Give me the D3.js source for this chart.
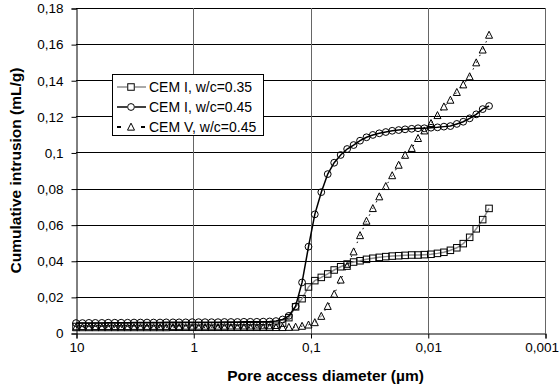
<!DOCTYPE html>
<html>
<head>
<meta charset="utf-8">
<script src="https://cdn.jsdelivr.net/npm/d3@7"></script>
<style>
  body { margin: 0; background: #fff; }
  text { font-family: Arial, "Liberation Sans", sans-serif; }
</style>
</head>
<body>
<div id="chart"></div>
<script>
// pore access diameter (µm), shared by all three samples
const diam = [10, 8.81, 7.76, 6.84, 6.02, 5.31, 4.67, 4.12, 3.63, 3.20,
  2.82, 2.48, 2.18, 1.92, 1.70, 1.49, 1.32, 1.16, 1.02, 0.900,
  0.793, 0.698, 0.615, 0.542, 0.477, 0.420, 0.370, 0.326, 0.287, 0.253,
  0.223, 0.197, 0.173, 0.153, 0.134, 0.118, 0.104, 0.0919, 0.0809, 0.0713,
  0.0628, 0.0553, 0.0487, 0.0429, 0.0378, 0.0333, 0.0294, 0.0259, 0.0228, 0.0201,
  0.0177, 0.0156, 0.0137, 0.0121, 0.0107, 0.00938, 0.00826, 0.00728, 0.00641, 0.00565,
  0.00498, 0.00439, 0.00386, 0.00340, 0.00300];

const cemI035 = [0.0036, 0.0037, 0.0036, 0.0037, 0.0037, 0.0037, 0.0037, 0.0037, 0.0037, 0.0038,
  0.0038, 0.0038, 0.0038, 0.0038, 0.0038, 0.0038, 0.0038, 0.0039, 0.0039, 0.0039,
  0.0039, 0.0039, 0.0039, 0.0039, 0.0040, 0.0040, 0.0040, 0.0040, 0.0040, 0.0041,
  0.0041, 0.0043, 0.0055, 0.0085, 0.0145, 0.0190, 0.0255, 0.0290, 0.0308, 0.0327,
  0.0349, 0.0367, 0.0382, 0.0393, 0.0400, 0.0408, 0.0414, 0.0419, 0.0423, 0.0426,
  0.0428, 0.0430, 0.0432, 0.0432, 0.0434, 0.0436, 0.0441, 0.0447, 0.0458, 0.0472,
  0.0495, 0.0530, 0.0577, 0.0628, 0.0690];

const cemI045 = [0.0055, 0.0055, 0.0056, 0.0056, 0.0056, 0.0057, 0.0057, 0.0057, 0.0057, 0.0058,
  0.0058, 0.0058, 0.0058, 0.0058, 0.0059, 0.0059, 0.0059, 0.0059, 0.0060, 0.0060,
  0.0060, 0.0060, 0.0060, 0.0061, 0.0061, 0.0061, 0.0062, 0.0062, 0.0062, 0.0063,
  0.0064, 0.0066, 0.0075, 0.0095, 0.0148, 0.0280, 0.0478, 0.0657, 0.0780, 0.0880,
  0.0943, 0.0986, 0.1019, 0.1041, 0.1065, 0.1084, 0.1097, 0.1106, 0.1113, 0.1120,
  0.1124, 0.1128, 0.1131, 0.1134, 0.1134, 0.1137, 0.1139, 0.1143, 0.1146, 0.1158,
  0.1170, 0.1189, 0.1211, 0.1240, 0.1257];

const cemV045 = [0.0030, 0.0030, 0.0030, 0.0030, 0.0030, 0.0030, 0.0030, 0.0030, 0.0030, 0.0030,
  0.0030, 0.0030, 0.0030, 0.0030, 0.0030, 0.0031, 0.0031, 0.0031, 0.0031, 0.0031,
  0.0031, 0.0031, 0.0031, 0.0031, 0.0031, 0.0031, 0.0031, 0.0031, 0.0031, 0.0031,
  0.0031, 0.0031, 0.0031, 0.0032, 0.0033, 0.0038, 0.0045, 0.0058, 0.0093, 0.0148,
  0.0215, 0.0294, 0.0370, 0.0450, 0.0540, 0.0620, 0.0690, 0.0755, 0.0812, 0.0872,
  0.0930, 0.0985, 0.1023, 0.1078, 0.1120, 0.1161, 0.1205, 0.1253, 0.1290, 0.1333,
  0.1375, 0.1420, 0.1497, 0.1568, 0.1650];

const xTicks = [10, 1, 0.1, 0.01, 0.001];
const yTicks = [0, 0.02, 0.04, 0.06, 0.08, 0.1, 0.12, 0.14, 0.16, 0.18];
const seriesNames = ["CEM I, w/c=0.35", "CEM I, w/c=0.45", "CEM V, w/c=0.45"];

const width = 559, height = 390;
const mLeft = 76, mRight = 545, mTop = 8, mBottom = 333;

const svg = d3.select("#chart").append("svg")
  .attr("width", width)
  .attr("height", height);

const x = d3.scaleLog().domain([10, 0.001]).range([mLeft, mRight]);
const y = d3.scaleLinear().domain([0, 0.18]).range([mBottom, mTop]);

const comma = v => String(+v.toFixed(3)).replace(".", ",");

// gridlines
svg.append("g").selectAll("line")
  .data(yTicks.slice(1))
  .enter().append("line")
  .attr("x1", mLeft).attr("x2", mRight)
  .attr("y1", d => Math.round(y(d)) + 0.5)
  .attr("y2", d => Math.round(y(d)) + 0.5)
  .attr("stroke", "#000")
  .attr("stroke-width", 1);

svg.append("g").selectAll("line")
  .data(xTicks.slice(1))
  .enter().append("line")
  .attr("x1", d => Math.round(x(d)) + 0.5)
  .attr("x2", d => Math.round(x(d)) + 0.5)
  .attr("y1", mTop).attr("y2", mBottom)
  .attr("stroke", "#666")
  .attr("stroke-width", 1);

// axes
const xAxis = svg.append("g")
  .attr("transform", `translate(0.5,${Math.round(mBottom) + 0.5})`)
  .call(d3.axisBottom(x).tickValues(xTicks).tickFormat(comma).tickSizeOuter(0).tickSize(5).tickPadding(4));

const yAxis = svg.append("g")
  .attr("transform", `translate(${mLeft + 0.5},0.5)`)
  .call(d3.axisLeft(y).tickValues(yTicks).tickFormat(comma).tickSizeOuter(0).tickSize(5).tickPadding(8));

[xAxis, yAxis].forEach(a => {
  a.selectAll("text").attr("font-size", 13.5).attr("fill", "#000")
    .attr("font-family", "Arial, 'Liberation Sans', sans-serif");
  a.select(".domain").attr("stroke", "#000");
  a.selectAll(".tick line").attr("stroke", "#000");
});
xAxis.selectAll("text").attr("dy", "0.7em");
// keep the last label inside the picture
xAxis.selectAll(".tick").filter(d => d === 0.001).select("text")
  .attr("text-anchor", "end").attr("x", 558 - mRight);

// axis titles
svg.append("text")
  .attr("x", (mLeft + mRight) / 2 + 15)
  .attr("y", 381)
  .attr("text-anchor", "middle")
  .attr("font-size", 15.5)
  .attr("font-weight", "bold")
  .text("Pore access diameter (µm)");

svg.append("text")
  .attr("transform", `translate(21,${(mTop + mBottom) / 2}) rotate(-90)`)
  .attr("text-anchor", "middle")
  .attr("font-size", 15.5)
  .attr("font-weight", "bold")
  .text("Cumulative intrusion (mL/g)");

// series
const pts = vals => diam.map((d, i) => [d, vals[i]]);
const line = d3.line().x(d => x(d[0])).y(d => y(d[1]));

function square(g, s) {
  g.append("rect").attr("x", -s / 2).attr("y", -s / 2).attr("width", s).attr("height", s)
    .attr("fill", "none").attr("stroke", "#000").attr("stroke-width", 1);
}
function circle(g, r) {
  g.append("circle").attr("r", r).attr("fill", "none").attr("stroke", "#000").attr("stroke-width", 1);
}
function triangle(g, s) {
  g.append("path").attr("d", `M0,${-s * 0.55}L${s / 2},${s * 0.45}L${-s / 2},${s * 0.45}Z`)
    .attr("fill", "none").attr("stroke", "#000").attr("stroke-width", 1);
}

const series = [
  { vals: cemI035, stroke: "#8c8c8c", width: 1.5, dash: null, legDash: null, mark: g => square(g, 6.5) },
  { vals: cemI045, stroke: "#000", width: 1.5, dash: null, legDash: null, mark: g => circle(g, 3.4) },
  { vals: cemV045, stroke: "#000", width: 1, dash: "1.5,6", legDash: "4,20", mark: g => triangle(g, 7) }
];

series.forEach(s => {
  svg.append("path")
    .datum(pts(s.vals))
    .attr("d", line)
    .attr("fill", "none")
    .attr("stroke", s.stroke)
    .attr("stroke-width", s.width)
    .attr("stroke-dasharray", s.dash);

  svg.append("g").selectAll("g")
    .data(pts(s.vals))
    .enter().append("g")
    .attr("transform", d => `translate(${x(d[0])},${y(d[1])})`)
    .each(function () { s.mark(d3.select(this)); });
});

// legend
const lg = svg.append("g").attr("transform", "translate(112,74)");
lg.append("rect")
  .attr("x", 0.5).attr("y", 0.5).attr("width", 151).attr("height", 61)
  .attr("fill", "#fff").attr("stroke", "#000");

const legRows = lg.selectAll(".row")
  .data(series)
  .enter().append("g")
  .attr("class", "row")
  .attr("transform", (d, i) => `translate(0,${13 + i * 20})`);

legRows.append("line")
  .attr("x1", 5).attr("x2", 34)
  .attr("stroke", d => d.stroke)
  .attr("stroke-width", d => d.legDash ? 2 : d.width)
  .attr("stroke-dasharray", d => d.legDash);

legRows.append("g")
  .attr("transform", "translate(19,0)")
  .each(function (d) {
    const g = d3.select(this);
    g.append("rect").attr("x", -4).attr("y", -4).attr("width", 8).attr("height", 8).attr("fill", "#fff");
    d.mark(g);
  });

legRows.append("text")
  .attr("x", 37)
  .attr("dy", "0.35em")
  .attr("font-size", 14)
  .text((d, i) => seriesNames[i]);
</script>
</body>
</html>
